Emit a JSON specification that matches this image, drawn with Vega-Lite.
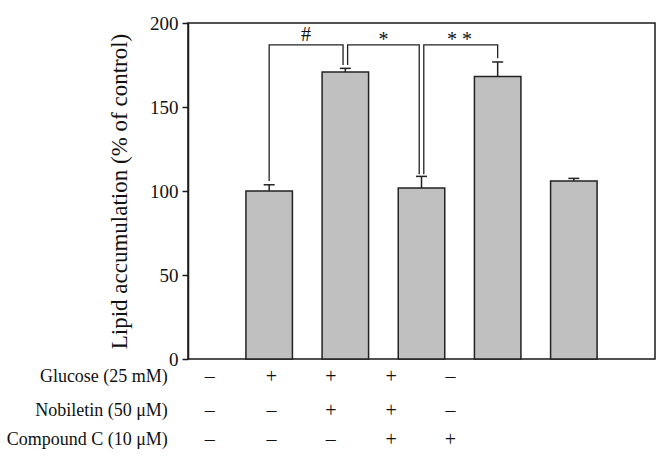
{
  "$schema": "https://vega.github.io/schema/vega-lite/v6.json",
  "width": 467,
  "height": 336,
  "autosize": "none",
  "padding": {"left": 188, "top": 23, "right": 15, "bottom": 111},
  "config": {
    "view": {"stroke": "#1a1a1a", "strokeWidth": 1.5},
    "font": "Liberation Serif",
    "text": {"font": "Liberation Serif", "color": "#111"}
  },
  "datasets": {
    "bars": [
      {"x": 1, "value": 100, "upper": 103.7},
      {"x": 2, "value": 170.8, "upper": 173},
      {"x": 3, "value": 101.8, "upper": 108.7},
      {"x": 4, "value": 168.2, "upper": 176.8},
      {"x": 5, "value": 106, "upper": 107.5}
    ],
    "brackets": [
      {"bracket": "a", "ord": 1, "x": 1, "y": 106},
      {"bracket": "a", "ord": 2, "x": 1, "y": 187},
      {"bracket": "a", "ord": 3, "x": 1.97, "y": 187},
      {"bracket": "a", "ord": 4, "x": 1.97, "y": 175},
      {"bracket": "b", "ord": 1, "x": 2.03, "y": 175},
      {"bracket": "b", "ord": 2, "x": 2.03, "y": 187},
      {"bracket": "b", "ord": 3, "x": 2.97, "y": 187},
      {"bracket": "b", "ord": 4, "x": 2.97, "y": 110},
      {"bracket": "c", "ord": 1, "x": 3.03, "y": 110},
      {"bracket": "c", "ord": 2, "x": 3.03, "y": 187},
      {"bracket": "c", "ord": 3, "x": 4, "y": 187},
      {"bracket": "c", "ord": 4, "x": 4, "y": 179}
    ],
    "sig": [
      {"x": 1.485, "y": 193, "label": "#"},
      {"x": 2.5, "y": 190, "label": "*"},
      {"x": 3.5, "y": 190, "label": "* *"}
    ],
    "rows": [
      {"x": -0.33, "y": -11, "label": "Glucose (25 mM)"},
      {"x": -0.33, "y": -31, "label": "Nobiletin (50 μM)"},
      {"x": -0.33, "y": -48, "label": "Compound C (10 μM)"}
    ],
    "signs": [
      {"x": 0.22, "y": -11, "sign": "–"},
      {"x": 1.03, "y": -11, "sign": "+"},
      {"x": 1.81, "y": -11, "sign": "+"},
      {"x": 2.6, "y": -11, "sign": "+"},
      {"x": 3.38, "y": -11, "sign": "–"},
      {"x": 0.22, "y": -31, "sign": "–"},
      {"x": 1.03, "y": -31, "sign": "–"},
      {"x": 1.81, "y": -31, "sign": "+"},
      {"x": 2.6, "y": -31, "sign": "+"},
      {"x": 3.38, "y": -31, "sign": "–"},
      {"x": 0.22, "y": -48, "sign": "–"},
      {"x": 1.03, "y": -48, "sign": "–"},
      {"x": 1.81, "y": -48, "sign": "–"},
      {"x": 2.6, "y": -48, "sign": "+"},
      {"x": 3.38, "y": -48, "sign": "+"}
    ]
  },
  "layer": [
    {
      "data": {"name": "bars"},
      "mark": {"type": "bar", "width": 46.5, "fill": "#c0c0c0", "stroke": "#222", "strokeWidth": 1.5},
      "encoding": {
        "x": {"field": "x", "type": "quantitative", "scale": {"domain": [0, 6], "nice": false, "zero": false}, "axis": null},
        "y": {
          "field": "value", "type": "quantitative",
          "scale": {"domain": [0, 200], "nice": false},
          "axis": {
            "values": [0, 50, 100, 150, 200],
            "grid": false,
            "domainColor": "#1a1a1a", "domainWidth": 1.5,
            "tickColor": "#1a1a1a", "tickSize": 6, "tickWidth": 1.5,
            "labelFontSize": 19, "labelColor": "#111", "labelPadding": 4, "labelFont": "Liberation Serif",
            "title": "Lipid accumulation (% of control)",
            "titleFontSize": 23, "titleFontWeight": "normal", "titleColor": "#111", "titleFont": "Liberation Serif",
            "titlePadding": 18
          }
        }
      }
    },
    {
      "data": {"name": "bars"},
      "mark": {"type": "rule", "stroke": "#222", "strokeWidth": 1.5},
      "encoding": {
        "x": {"field": "x", "type": "quantitative"},
        "y": {"field": "value", "type": "quantitative"},
        "y2": {"field": "upper"}
      }
    },
    {
      "data": {"name": "bars"},
      "mark": {"type": "tick", "orient": "horizontal", "size": 11, "thickness": 1.5, "color": "#222", "opacity": 1},
      "encoding": {
        "x": {"field": "x", "type": "quantitative"},
        "y": {"field": "upper", "type": "quantitative"}
      }
    },
    {
      "data": {"name": "brackets"},
      "mark": {"type": "line", "stroke": "#222", "strokeWidth": 1.3},
      "encoding": {
        "x": {"field": "x", "type": "quantitative"},
        "y": {"field": "y", "type": "quantitative"},
        "detail": {"field": "bracket"},
        "order": {"field": "ord", "type": "quantitative"}
      }
    },
    {
      "data": {"name": "sig"},
      "mark": {"type": "text", "fontSize": 20, "baseline": "middle", "align": "center"},
      "encoding": {
        "x": {"field": "x", "type": "quantitative"},
        "y": {"field": "y", "type": "quantitative"},
        "text": {"field": "label"}
      }
    },
    {
      "data": {"name": "rows"},
      "mark": {"type": "text", "fontSize": 18, "baseline": "middle", "align": "right"},
      "encoding": {
        "x": {"field": "x", "type": "quantitative"},
        "y": {"field": "y", "type": "quantitative"},
        "text": {"field": "label"}
      }
    },
    {
      "data": {"name": "signs"},
      "mark": {"type": "text", "fontSize": 20, "baseline": "middle", "align": "center"},
      "encoding": {
        "x": {"field": "x", "type": "quantitative"},
        "y": {"field": "y", "type": "quantitative"},
        "text": {"field": "sign"}
      }
    }
  ]
}
